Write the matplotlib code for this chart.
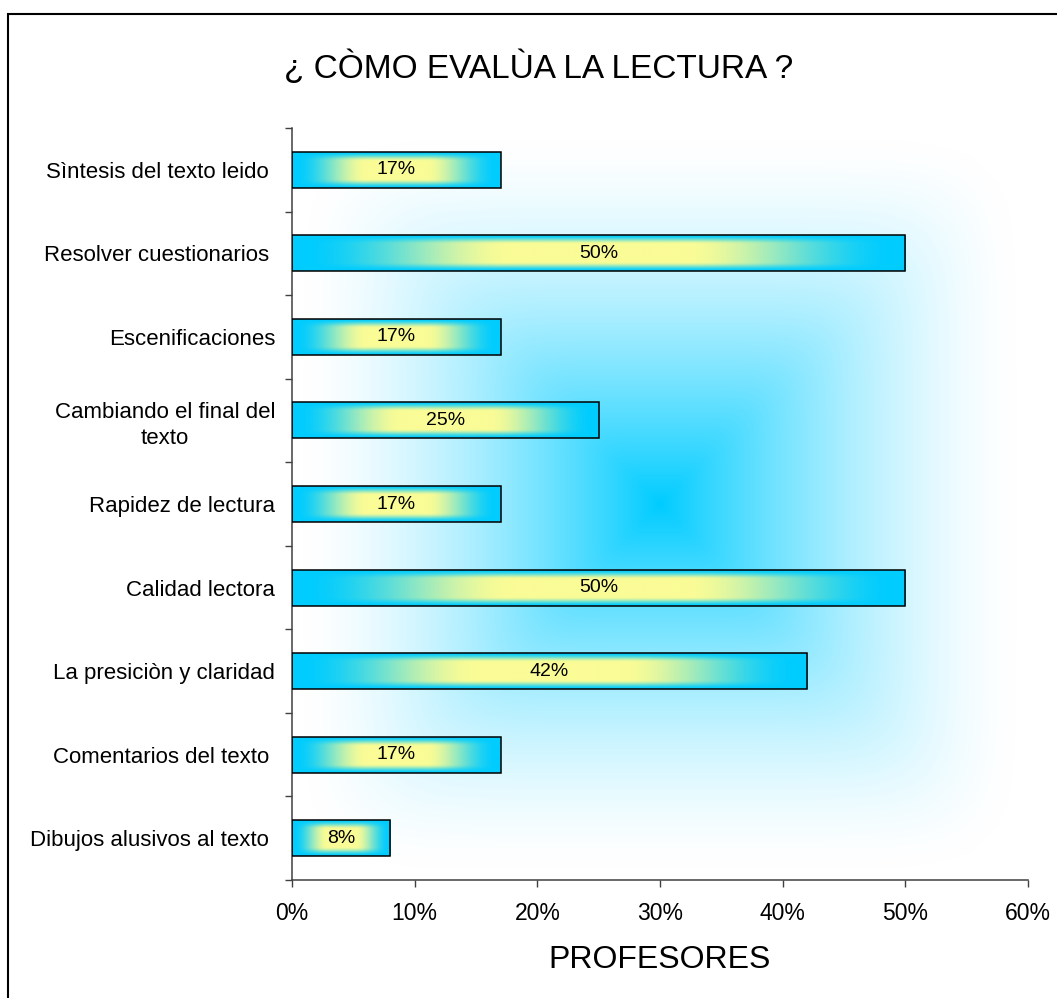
import numpy as np
import matplotlib
matplotlib.use("Agg")
import matplotlib.pyplot as plt
from matplotlib.patches import Rectangle
from matplotlib.ticker import FixedLocator, FuncFormatter

plt.rcParams['font.family'] = ['Liberation Sans', 'DejaVu Sans']

# ---- data (top to bottom) ----
categories = [
    "Sìntesis del texto leido ",
    "Resolver cuestionarios ",
    "Escenificaciones",
    "Cambiando el final del\ntexto",
    "Rapidez de lectura",
    "Calidad lectora",
    "La presiciòn y claridad",
    "Comentarios del texto ",
    "Dibujos alusivos al texto ",
]
values = [17, 50, 17, 25, 17, 50, 42, 17, 8]
value_labels = ["17%", "50%", "17%", "25%", "17%", "50%", "42%", "17%", "8%"]
xticks = [0, 10, 20, 30, 40, 50, 60]
title = "¿ CÒMO EVALÙA LA LECTURA ?"
xlabel = "PROFESORES"

CYAN = np.array([0, 204, 255]) / 255.0
YELLOW = np.array([250, 252, 150]) / 255.0
WHITE = np.array([1.0, 1.0, 1.0])


def smoothstep(a, b, x):
    s = np.clip((x - a) / (b - a), 0, 1)
    return s * s * (3 - 2 * s)


W, H = 1057, 998
fig = plt.figure(figsize=(W / 100, H / 100), dpi=100)
ax = fig.add_axes([292 / W, 1 - 880 / H, (1028 - 292) / W, (880 - 128) / H])

n = len(categories)
ypos = np.arange(n)
ax.set_xlim(0, 60)
ax.set_ylim(n - 0.5, -0.5)

# background rectangular gradient (center cyan -> edges white)
gx = np.linspace(-1, 1, 600)
gy = np.linspace(-1, 1, 600)
GX, GY = np.meshgrid(gx, gy)
p = 8.0
t = (np.abs(GX) ** p + np.abs(GY) ** p) ** (1 / p)
t = np.clip(t / 0.97, 0, 1)
f = 1 - (1 - t) ** 1.5
bg = CYAN[None, None, :] * (1 - f[..., None]) + WHITE[None, None, :] * f[..., None]
ax.imshow(bg, extent=[0, 60, n - 0.5, -0.5], aspect='auto',
          interpolation='bilinear', zorder=0)

# bars
bars = ax.barh(ypos, values, height=0.43, facecolor='none',
               edgecolor='black', linewidth=1.1, zorder=3)

bx = np.linspace(-1, 1, 500)
by = np.linspace(-1, 1, 80)
BX, BY = np.meshgrid(bx, by)
fu = smoothstep(0.28, 0.97, np.abs(BX))
fv = smoothstep(0.5, 1.0, np.abs(BY))
ff = 1 - (1 - fu) * (1 - fv)
bar_img = YELLOW[None, None, :] * (1 - ff[..., None]) + CYAN[None, None, :] * ff[..., None]
for b in bars:
    x0, y0, w, h = b.get_x(), b.get_y(), b.get_width(), b.get_height()
    ax.imshow(bar_img, extent=[x0, x0 + w, y0 + h, y0], aspect='auto',
              interpolation='bilinear', zorder=2)

for b, lab in zip(bars, value_labels):
    ax.text(b.get_x() + b.get_width() / 2, b.get_y() + b.get_height() / 2, lab,
            ha='center', va='center', fontsize=14, color='black', zorder=4)

ax.set_xlim(0, 60)
ax.set_ylim(n - 0.5, -0.5)

# spines
for s in ['top', 'right']:
    ax.spines[s].set_visible(False)
for s in ['left', 'bottom']:
    ax.spines[s].set_color('#404040')
    ax.spines[s].set_linewidth(1.1)

ax.set_xticks(xticks)
ax.xaxis.set_major_formatter(FuncFormatter(lambda v, p: f"{int(v)}%"))
ax.tick_params(axis='x', direction='out', length=5, width=1.0, color='#404040',
               labelsize=16.5, pad=11)

ax.set_yticks(ypos)
ax.set_yticklabels(categories, multialignment='center', linespacing=1.3)
ax.yaxis.set_minor_locator(FixedLocator(np.arange(-0.5, n, 1.0)))
ax.tick_params(axis='y', which='major', length=0, labelsize=16, pad=12)
ax.tick_params(axis='y', which='minor', direction='out', length=5, width=1.0,
               color='#404040')

fig.text(539 / W, 1 - 68 / H, title, ha='center', va='center', fontsize=24)
fig.text(660 / W, 1 - 960 / H, xlabel, ha='center', va='center', fontsize=23)

# outer frame (left and top edges visible)
fig.patches.append(Rectangle((8 / W, -0.2), 1.5, 1 - 14 / H + 0.2,
                             transform=fig.transFigure, fill=False,
                             edgecolor='black', linewidth=1.5))

fig.savefig("out.png", dpi=100)
